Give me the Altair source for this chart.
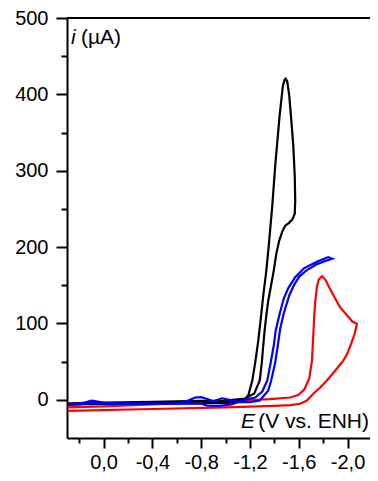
import altair as alt
import pandas as pd

# ---- data (E in V vs. ENH, i in µA) ----
black_E = [0.29, 0.0, -0.4, -0.8, -1.0, -1.1,
           -1.161, -1.186, -1.219, -1.243, -1.268, -1.284, -1.309, -1.334, -1.354, -1.383,
           -1.407, -1.443, -1.470, -1.484, -1.493, -1.506, -1.522, -1.539, -1.555, -1.567,
           -1.571, -1.567, -1.547, -1.518, -1.489, -1.465, -1.440, -1.416, -1.395, -1.370,
           -1.350, -1.334, -1.320, -1.309, -1.297, -1.280, -1.235, -1.161,
           -1.0, -0.8, -0.4, 0.0, 0.29]
black_I = [-6, -5.5, -5, -4.5, -4, -3,
           1.7, 5.6, 25.3, 48.8, 77.6, 99.9, 136.6, 169.2, 202, 254.3,
           306.7, 372.1, 411.4, 419.2, 420.5, 416.6, 398.3, 365.6, 332.9, 293.6,
           260.9, 243.8, 236, 231.4, 228.1, 220.3, 208.5, 191.5, 169.2, 147,
           130, 110.3, 90.7, 71.1, 48.8, 25.3, 8.2, 1.7,
           -1, -1.5, -2.5, -3.5, -4.5]

blue_E = [0.29, 0.2, 0.14, 0.1, 0.06, 0.0, -0.3, -0.6, -0.68, -0.75, -0.8, -0.85, -0.9,
          -0.97, -1.03, -1.1, -1.2, -1.28,
          -1.301, -1.350, -1.374, -1.407, -1.428, -1.448, -1.477, -1.522, -1.563, -1.604,
          -1.661, -1.743, -1.817, -1.875,
          -1.842, -1.752, -1.645, -1.571, -1.514, -1.477, -1.444, -1.411, -1.395, -1.370,
          -1.342, -1.301, -1.243,
          -1.15, -1.05, -0.95, -0.85, -0.8, -0.6, -0.3, 0.0, 0.06, 0.1, 0.2, 0.29]
blue_I = [-6, -5, -3, -1, -2, -4, -4.5, -4.5, -2, 3, 3.5, 1, -2,
          2, 0, -3, -3, -1,
          3.0, 12.2, 25.3, 48.8, 71.1, 93.3, 113, 136.6, 150.9, 161.4,
          169.2, 177.1, 181.7, 184.9,
          186.9, 181.0, 172.5, 160.7, 146.3, 132.6, 113, 90.7, 71.1, 48.8,
          25.3, 10.9, 3.0,
          0, -6, -8, -7.5, -5, -5, -5, -5, -4.5, -4, -6, -7]

red_E = [0.29, -0.4, -1.0, -1.4, -1.53,
         -1.612, -1.667, -1.721, -1.776, -1.831, -1.913, -1.965, -1.998, -2.030, -2.059,
         -2.077,
         -2.039, -1.998, -1.940, -1.885, -1.842, -1.817, -1.790, -1.764, -1.748, -1.736,
         -1.727, -1.719, -1.708, -1.686, -1.645, -1.596, -1.530, -1.366, -1.121,
         -0.8, -0.4, 0.0, 0.29]
red_I = [-14.4, -12, -10, -8, -7,
         -5.2, -0.9, 8.2, 16.1, 25.3, 41, 51.4, 60.6, 73.7, 86.8,
         99.5,
         102.5, 110.3, 120.8, 136.5, 149.6, 157.5, 161.8, 157.5, 147, 130,
         110.3, 84.2, 51.4, 27.9, 13.5, 6.3, 3.0, 1.0, -0.9,
         -3, -6, -8.5, -10]

x_major = [0.0, -0.4, -0.8, -1.2, -1.6, -2.0]
x_minor = [0.2, -0.2, -0.6, -1.0, -1.4, -1.8]
y_major = [0, 100, 200, 300, 400, 500]
y_minor = [50, 150, 250, 350, 450]

FONT = "Liberation Sans"
W, H = 303, 420
xs = alt.Scale(domain=[0.3, -2.184], nice=False, zero=False)
ys = alt.Scale(domain=[-50, 500], nice=False, zero=False)


def df(E, I):
    return pd.DataFrame({"E": E, "I": I, "k": list(range(len(E)))})


label_expr = "(datum.value < -0.001 ? '-' : '') + replace(format(abs(datum.value), '.1f'), '.', ',')"

x_main = alt.Axis(values=x_major, orient="bottom", title=None, grid=False,
                  labelExpr=label_expr, tickSize=10, labelPadding=4)
y_main = alt.Axis(values=y_major, orient="left", title=None, grid=False,
                  tickSize=11, labelPadding=8, format="d")
x_min = alt.Axis(values=x_minor, orient="bottom", title=None, grid=False, labels=False,
                 domain=False, tickSize=5)
y_min = alt.Axis(values=y_minor, orient="left", title=None, grid=False, labels=False,
                 domain=False, tickSize=6)


def line(d, color, xa=None, ya=None):
    return alt.Chart(d).mark_line(color=color, strokeWidth=2.2, clip=True).encode(
        x=alt.X("E:Q", scale=xs, axis=xa),
        y=alt.Y("I:Q", scale=ys, axis=ya),
        order=alt.Order("k:Q"),
    )


red = line(df(red_E, red_I), "#ff0000", x_main, y_main)
black = line(df(black_E, black_I), "#000000")
blue = line(df(blue_E, blue_I), "#0000ff")

minor = alt.Chart(df(red_E, red_I)).mark_point(opacity=0).encode(
    x=alt.X("E:Q", scale=xs, axis=x_min),
    y=alt.Y("I:Q", scale=ys, axis=y_min),
)

top_rule = alt.Chart(pd.DataFrame({"v": [500]})).mark_rule(color="black", strokeWidth=2).encode(
    y=alt.Y("v:Q", scale=ys, axis=None)
)


def txt(s, px, py, italic=False, align="left"):
    return alt.Chart(pd.DataFrame({"t": [s]})).mark_text(
        font=FONT, fontSize=21, fontStyle="italic" if italic else "normal",
        align=align, baseline="middle", color="black"
    ).encode(text="t:N", x=alt.value(px), y=alt.value(py))


labels = [
    txt("i", 4, 20, italic=True),
    txt("(µA)", 14, 20),
    txt("E", 174, 404, italic=True),
    txt("(V vs. ENH)", 302, 404, align="right"),
]

chart = alt.layer(red, black, blue, minor, top_rule, *labels).resolve_axis(
    x="independent", y="independent"
).properties(
    width=W, height=H,
    autosize=alt.AutoSizeParams(type="none"),
    padding={"left": 59, "top": 10, "right": 0, "bottom": 35},
).configure_view(stroke=None).configure_axis(
    labelFont=FONT, labelFontSize=20, labelColor="black",
    domainColor="black", domainWidth=2, tickColor="black", tickWidth=2,
)

chart.save("out.html", embed_options={"renderer": "svg", "actions": False})
